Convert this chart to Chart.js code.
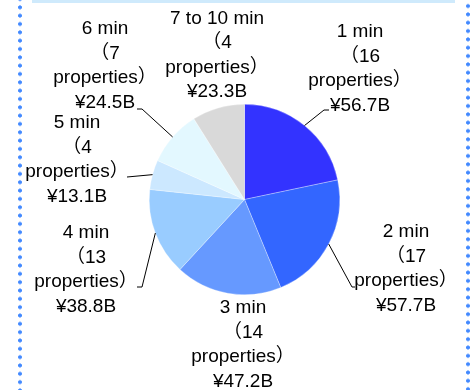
<!DOCTYPE html>
<html>
<head>
<meta charset="utf-8">
<script src="https://cdn.jsdelivr.net/npm/chart.js@4.4.1/dist/chart.umd.min.js"></script>
<style>
  html, body { margin: 0; padding: 0; background: #fff; }
  #wrap { position: relative; width: 470px; height: 390px; overflow: hidden; }
  #chart { position: absolute; left: 0; top: 0; }
  .dots {
    position: absolute; top: 0; width: 6px; height: 390px;
    background-image: radial-gradient(circle, #4289ff 1.6px, rgba(66,137,255,0) 2.3px);
    background-size: 6px 8.33px;
    background-repeat: repeat-y;
  }
  #dotsL { left: 17px; background-position: 0 3.2px; }
  #dotsR { left: 465px; background-position: 0 1.9px; }
  #band { position: absolute; left: 32px; top: 0; width: 423px; height: 3px; background: #cfeafc; }
</style>
</head>
<body>
<div id="wrap">
  <canvas id="chart" width="470" height="390"></canvas>
  <div id="band"></div>
  <div class="dots" id="dotsL"></div>
  <div class="dots" id="dotsR"></div>
</div>
<script>
// Sales by walking time from the station (¥ billions), clockwise from 12 o'clock
const categories = ['1 min', '2 min', '3 min', '4 min', '5 min', '6 min', '7 to 10 min'];
const propertyCounts = [16, 17, 14, 13, 4, 7, 4];
const salesBillions = [56.7, 57.7, 47.2, 38.8, 13.1, 24.5, 23.3];
const sliceColors = ['#3333ff', '#3366ff', '#6699ff', '#99ccff', '#cce8ff', '#e3f8ff', '#d9d9d9'];

// label block centre, relative to the pie centre
const labelOffsets = [[115.5, -130.5], [161.5, 69.5], [-1.5, 145.5], [-158.5, 70.5], [-167.5, -39.5], [-139.5, -133.5], [-27.5, -144]];
// leader line: [attach x, attach y, elbow x, elbow y] relative to the label centre, null = none
const leaders = [[-31, 41, -36, 41], [-51, 18, -54, 18], null, [51, 17, 56, 17], [50, 17, 50, 17], [32, 43, 37, 43], null];

const FONT = '19px "Liberation Sans", Arial, "Noto Sans CJK JP", sans-serif';
const LINE_H = 24.5;

const outsideLabels = {
  id: 'outsideLabels',
  afterDatasetsDraw(chart) {
    const ctx = chart.ctx;
    const arcs = chart.getDatasetMeta(0).data;
    ctx.save();
    ctx.font = FONT;
    ctx.fillStyle = '#000';
    ctx.strokeStyle = '#000';
    ctx.lineWidth = 1;
    ctx.textAlign = 'center';
    ctx.textBaseline = 'middle';
    arcs.forEach(function(arc, i) {
      const p = arc.getProps(['x', 'y', 'startAngle', 'endAngle', 'outerRadius'], true);
      const lx = p.x + labelOffsets[i][0];
      const ly = p.y + labelOffsets[i][1];
      const lines = [categories[i], '（' + propertyCounts[i], 'properties）', '¥' + salesBillions[i].toFixed(1) + 'B'];
      lines.forEach(function(t, k) {
        ctx.fillText(t, lx, ly + (k - 1.5) * LINE_H);
      });
      const ld = leaders[i];
      if (ld) {
        const mid = (p.startAngle + p.endAngle) / 2;
        const ax = p.x + Math.cos(mid) * p.outerRadius;
        const ay = p.y + Math.sin(mid) * p.outerRadius;
        ctx.beginPath();
        ctx.moveTo(lx + ld[0], ly + ld[1]);
        ctx.lineTo(lx + ld[2], ly + ld[3]);
        ctx.lineTo(ax, ay);
        ctx.stroke();
      }
    });
    ctx.restore();
  }
};

new Chart(document.getElementById('chart'), {
  type: 'pie',
  data: {
    labels: categories,
    datasets: [{
      data: salesBillions,
      backgroundColor: sliceColors,
      borderColor: 'rgba(255,255,255,0.6)',
      borderWidth: 0.5
    }]
  },
  options: {
    responsive: false,
    animation: false,
    devicePixelRatio: 1,
    layout: { padding: { left: 149, right: 130, top: 104, bottom: 95 } },
    plugins: {
      legend: { display: false },
      tooltip: { enabled: false }
    }
  },
  plugins: [outsideLabels]
});
</script>
</body>
</html>
